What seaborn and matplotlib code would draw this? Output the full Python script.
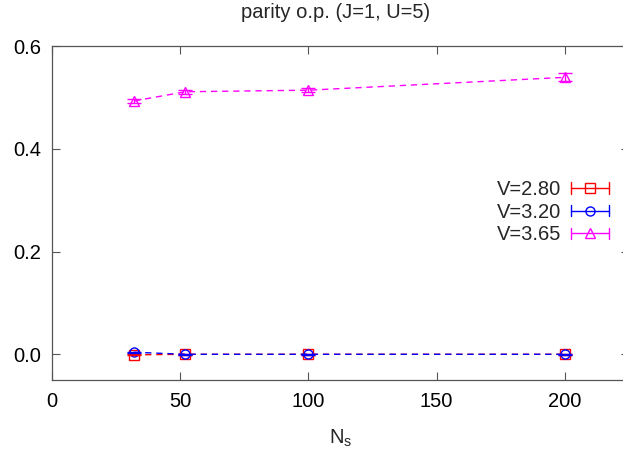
import numpy as np
import pandas as pd
import matplotlib
matplotlib.use("Agg")
import matplotlib.pyplot as plt
from matplotlib.lines import Line2D
from matplotlib.legend_handler import HandlerBase
import seaborn as sns

# System sizes and parity order parameter for each V
Ns = [32, 52, 100, 200]
labels = ["V=2.80", "V=3.20", "V=3.65"]
op_v280 = [-0.001, 0.0, 0.0, 0.0]
op_v320 = [0.004, 0.0, 0.0, 0.0]
op_v365 = [0.493, 0.511, 0.514, 0.539]
err_v280 = [0.001, 0.001, 0.001, 0.001]
err_v320 = [0.001, 0.001, 0.001, 0.001]
err_v365 = [0.004, 0.004, 0.004, 0.008]

values = [op_v280, op_v320, op_v365]
errors = [err_v280, err_v320, err_v365]
colors = ["#ff0000", "#0000ff", "#ff00ff"]
markers = ["s", "o", "^"]
msizes = [6.5, 6.5, 7]

FS = 14.5
sns.set_theme(style="ticks")
plt.rcParams["font.family"] = ["Liberation Sans", "DejaVu Sans"]
plt.rcParams["font.size"] = FS

df = pd.DataFrame({
    "Ns": np.tile(Ns, 3),
    "op": np.concatenate(values),
    "err": np.concatenate(errors),
    "V": np.repeat(labels, len(Ns)),
})

W, H = 623, 458
fig = plt.figure(figsize=(W / 100, H / 100), dpi=100)
ax = fig.add_axes([52 / W, 1 - 380 / H, (629 - 52) / W, (380 - 46) / H])

sns.lineplot(data=df, x="Ns", y="op", hue="V", style="V",
             palette=dict(zip(labels, colors)),
             markers=dict(zip(labels, markers)),
             dashes={l: (4.5, 3.5) for l in labels},
             linewidth=1.0, markerfacecolor="none",
             markeredgewidth=1.0, legend=False, ax=ax, errorbar=None)
for lbl, c in zip(labels, colors):
    sub = df[df["V"] == lbl]
    ax.errorbar(sub["Ns"], sub["op"], yerr=sub["err"], fmt="none",
                ecolor=c, elinewidth=1.0, capsize=5, capthick=1.0)
# open markers in the series colour
for line, c, ms in zip(ax.lines, colors, msizes):
    line.set_markeredgecolor(c)
    line.set_markerfacecolor("none")
    line.set_markersize(ms)

ax.set_xlim(0, 225)
ax.set_ylim(-0.05, 0.6)
ax.set_xticks([0, 50, 100, 150, 200])
ax.set_yticks([0.0, 0.2, 0.4, 0.6])
ax.set_yticklabels(["0.0", "0.2", "0.4", "0.6"])
ax.tick_params(direction="in", length=6, width=0.8, color="#555555",
               top=True, right=True, labelsize=FS, labelcolor="black")
ax.tick_params(axis="x", pad=8.5)
ax.tick_params(axis="y", pad=8)
for s in ax.spines.values():
    s.set_color("#555555")
    s.set_linewidth(0.9)
ax.set_xlabel("")
ax.set_ylabel("")

fig.text(336 / W, 1 - 13 / H, "parity o.p. (J=1, U=5)", ha="center",
         va="center", fontsize=FS)
fig.text(341 / W, 1 - 438 / H, r"N$_\mathregular{s}$", ha="center",
         va="center", fontsize=FS)


class CapHandler(HandlerBase):
    def create_artists(self, legend, orig_handle, xdescent, ydescent,
                       width, height, fontsize, trans):
        c = orig_handle.get_color()
        m = orig_handle.get_marker()
        ms = orig_handle.get_markersize()
        y = height / 2 - ydescent
        x0, x1 = -xdescent, width - xdescent
        h = 4.0
        arts = [Line2D([x0, x1], [y, y], color=c, lw=1.0),
                Line2D([x0, x0], [y - h, y + h], color=c, lw=1.0),
                Line2D([x1, x1], [y - h, y + h], color=c, lw=1.0),
                Line2D([(x0 + x1) / 2], [y], marker=m, color=c,
                       markerfacecolor="none", markersize=ms, mew=1.0)]
        for a in arts:
            a.set_transform(trans)
        return arts


handles = [Line2D([], [], color=c, marker=m, markersize=ms)
           for c, m, ms in zip(colors, markers, msizes)]
fig.legend(handles, labels, handler_map={Line2D: CapHandler()},
           loc="upper right", bbox_to_anchor=(609 / W, 1 - 180 / H),
           frameon=False, markerfirst=False, handlelength=38 / 20.1,
           handletextpad=0.5, labelspacing=0.18, borderpad=0,
           borderaxespad=0, fontsize=FS)

fig.savefig("out.png", dpi=100)
